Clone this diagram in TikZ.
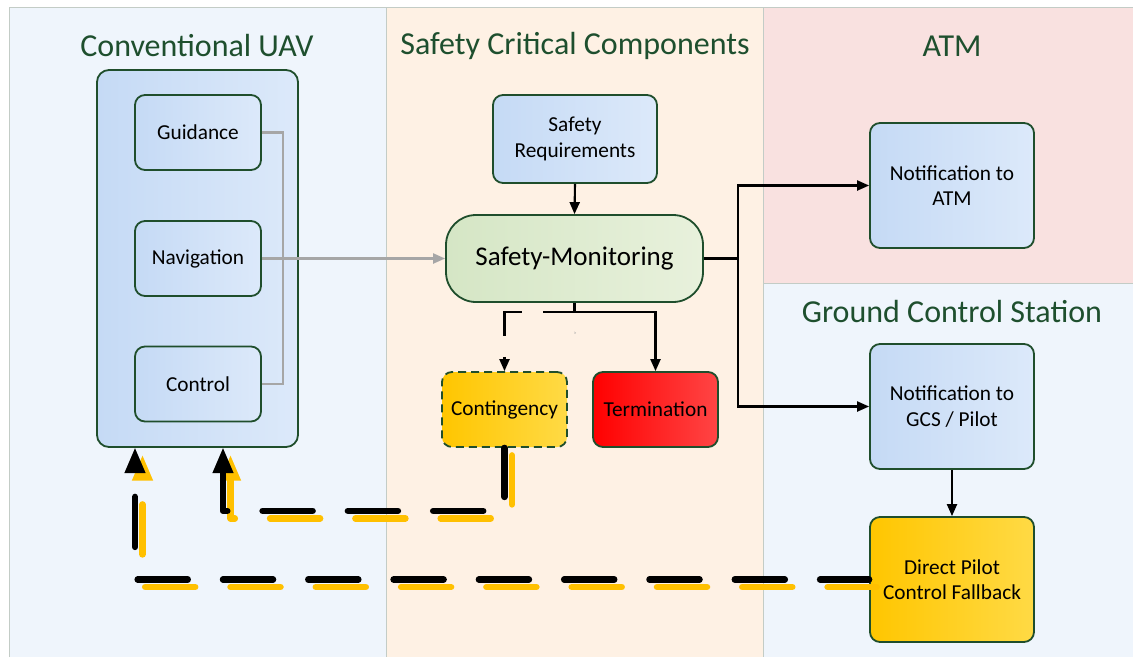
\documentclass[tikz,border=0pt]{standalone}
\usepackage{fontspec}
\setmainfont{Carlito}
\usetikzlibrary{arrows.meta,calc}
\definecolor{bgblue}{HTML}{EFF5FC}
\definecolor{bgpeach}{HTML}{FEF1E4}
\definecolor{bgpink}{HTML}{F9E1E0}
\definecolor{frame}{HTML}{C3CCC6}
\definecolor{bord}{HTML}{1F4E2C}
\definecolor{ttl}{HTML}{1E4F2E}
\definecolor{bla}{HTML}{C5DAF5}
\definecolor{blb}{HTML}{DCE9FA}
\definecolor{gra}{HTML}{D5E6C5}
\definecolor{grb}{HTML}{E8F1DC}
\definecolor{yla}{HTML}{FFC600}
\definecolor{ylb}{HTML}{FFDA45}
\definecolor{rda}{HTML}{FF0000}
\definecolor{rdb}{HTML}{FF4545}
\definecolor{glin}{HTML}{A6A6A6}
\definecolor{yfb}{HTML}{FFC000}
\tikzset{
  box/.style={draw=bord, line width=1.8pt, rounded corners=10pt, inner sep=0pt, align=center,
    font=\fontsize{21.3}{25.5}\selectfont},
  bluefill/.style={left color=bla, right color=blb},
  greenfill/.style={left color=gra, right color=grb},
  yellowfill/.style={left color=yla, right color=ylb},
  redfill/.style={left color=rda, right color=rdb},
  ttext/.style={text=ttl, font=\fontsize{32}{38}\selectfont, inner sep=0pt},
  conn/.style={draw=black, line width=2.1pt, -{Triangle[length=12pt,width=10pt]}},
  grayconn/.style={draw=glin, line width=2.1pt},
  fbbase/.style={line width=6.5pt, line cap=round, line join=round,
    dash pattern=on 50pt off 35.3pt, dash phase=1pt,
    -{Triangle[length=26pt,width=19pt]}},
  fbblack/.style={fbbase, draw=black},
  fbyellow/.style={fbbase, draw=yfb, transform canvas={xshift=7.5pt,yshift=-7.5pt}}
}
\begin{document}
\begin{tikzpicture}[x=1pt,y=-1pt]
\useasboundingbox (0,0) rectangle (1133,657);
\fill[white] (0,0) rectangle (1133,657);
% backgrounds
\fill[bgblue] (9,7) rectangle (386,657);
\fill[bgpeach] (386,7) rectangle (763,657);
\fill[bgpink] (763,7) rectangle (1133,283);
\fill[bgblue] (763,283) rectangle (1133,657);
\draw[frame, line width=0.8pt] (9,657) -- (9,7) -- (1133,7);
\draw[frame, line width=0.8pt] (386,7) -- (386,657);
\draw[frame, line width=0.8pt] (763,7) -- (763,657);
\draw[frame, line width=0.8pt] (763,283) -- (1133,283);
% titles
\node[ttext] (t1) at (197,46) {Conventional UAV};
\node[ttext] (t2) at (575,46) {Safety Critical Components};
\node[ttext] (t3) at (952,46) {ATM};
\node[ttext] (t4) at (952,311) {Ground Control Station};
% UAV
\node[box, bluefill, minimum width=201pt, minimum height=377pt, rounded corners=12pt] (uav) at (197.5,258.5) {};
\node[box, bluefill, minimum width=126pt, minimum height=75pt] (guid) at (198,132.5) {Guidance};
\node[box, bluefill, minimum width=126pt, minimum height=75pt] (nav) at (198,258.5) {Navigation};
\node[box, bluefill, minimum width=126pt, minimum height=75pt] (ctrl) at (198,384) {Control};
% safety
\node[box, bluefill, minimum width=164pt, minimum height=88pt] (sr) at (575,139) {Safety\\Requirements};
\node[box, greenfill, minimum width=257pt, minimum height=87pt, rounded corners=30pt,
  font=\fontsize{27}{32}\selectfont] (sm) at (574.5,258.5) {Safety-Monitoring};
\node[box, yellowfill, dashed, dash pattern=on 8pt off 5pt, minimum width=125pt, minimum height=75pt] (cont) at (504.5,409.5) {Contingency};
\node[box, redfill, minimum width=125pt, minimum height=75pt] (term) at (655.5,409.5) {Termination};
\node[text=glin, font=\fontsize{4}{5}\selectfont, inner sep=0pt] (ir) at (575,333) {ir};
% ATM / GCS
\node[box, bluefill, minimum width=164pt, minimum height=125pt] (natm) at (952,185.5) {Notification to\\ATM};
\node[box, bluefill, minimum width=164pt, minimum height=125pt] (ngcs) at (952,406.5) {Notification to\\GCS / Pilot};
\node[box, yellowfill, minimum width=164pt, minimum height=125pt] (dpcf) at (952,579.5) {Direct Pilot\\Control Fallback};
% gray connectors
\draw[grayconn] (guid.east) -- ++(21,0) |- (ctrl.east);
\draw[grayconn, -{Triangle[length=12pt,width=10pt]}] (nav.east) -- (sm.west);
% black connectors
\draw[conn] (sr.south) -- (sm.north);
\draw[conn] (sm.south) -- ++(0,9) -| (term.north);
\draw[conn, dash pattern=on 41pt off 21pt] (sm.south) -- ++(0,9) -| (cont.north);
\draw[conn] (sm.east) -- ++(34,0) coordinate (j) |- (natm.west);
\draw[conn] (j) |- (ngcs.west);
\draw[conn] (ngcs.south) -- (dpcf.north);
% fallback paths
\coordinate (inA) at (223,447);
\coordinate (inB) at (135,447);
\draw[fbyellow] (cont.south) -- ++(0,63) -| (inA);
\draw[fbyellow] (dpcf.west) -| (inB);
\draw[fbblack] (cont.south) -- ++(0,63) -| (inA);
\draw[fbblack] (dpcf.west) -| (inB);
\end{tikzpicture}
\end{document}
